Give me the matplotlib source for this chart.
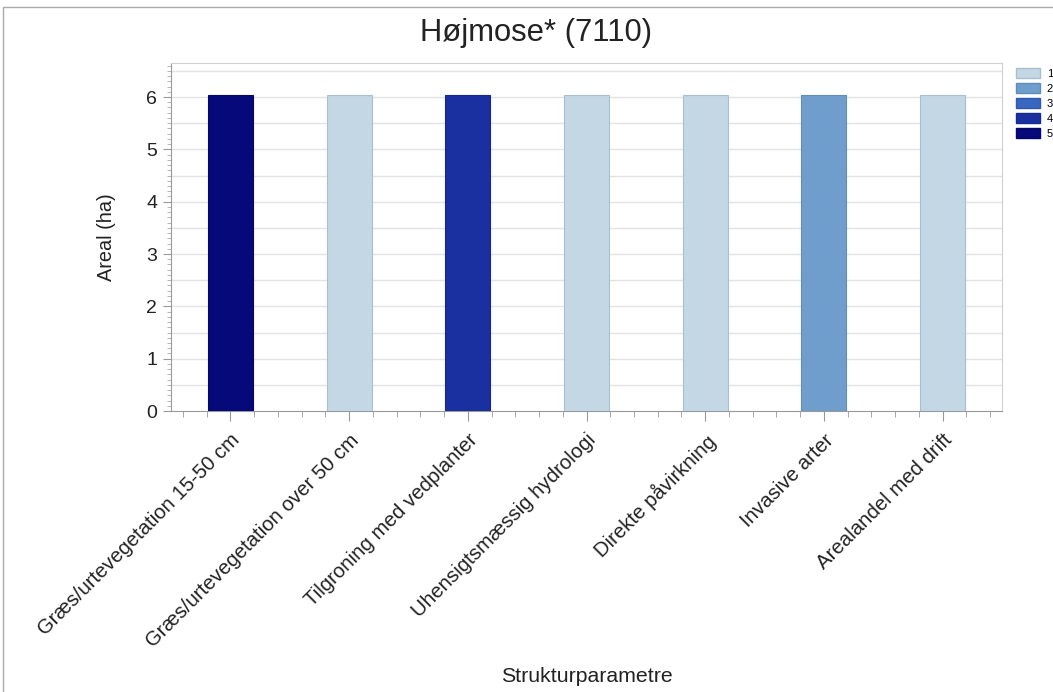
import matplotlib.pyplot as plt
from matplotlib.patches import Patch, Rectangle
from matplotlib.ticker import MultipleLocator
import numpy as np

plt.rcParams['font.family'] = ['Liberation Sans', 'DejaVu Sans']

categories = ['Græs/urtevegetation 15-50 cm', 'Græs/urtevegetation over 50 cm',
              'Tilgroning med vedplanter', 'Uhensigtsmæssig hydrologi',
              'Direkte påvirkning', 'Invasive arter', 'Arealandel med drift']
values = [6.04, 6.04, 6.04, 6.04, 6.04, 6.04, 6.04]
classes = [5, 1, 4, 1, 1, 2, 1]
legend_labels = ['1', '2', '3', '4', '5']
class_colors = {1: '#c3d8e4', 2: '#6f9ecd', 3: '#3866c0', 4: '#1b30a0', 5: '#05097a'}
edge_colors = {1: '#a9bfcc', 2: '#5f8dbb', 3: '#2f59ad', 4: '#17298c', 5: '#040768'}

fig = plt.figure(figsize=(10.53, 6.92), dpi=100)
ax = fig.add_axes([171 / 1053, 1 - 411 / 692, (1002 - 171) / 1053, (411 - 63) / 692])

x = np.arange(len(categories))
ax.bar(x, values, width=0.38, color=[class_colors[c] for c in classes],
       edgecolor=[edge_colors[c] for c in classes], linewidth=0.8, zorder=3)

ax.set_xlim(-0.5, len(categories) - 0.5)
ax.set_ylim(0, 6.65)
ax.yaxis.set_major_locator(MultipleLocator(1))
ax.yaxis.set_minor_locator(MultipleLocator(0.1))
ax.set_xticks(x)
ax.set_xticks(np.arange(-0.4, len(categories) - 0.5, 0.2), minor=True)
ax.set_xticklabels(categories, rotation=45, ha='right', rotation_mode='anchor',
                   fontsize=14.7, color='#222222')
ax.tick_params(axis='x', which='major', length=7, color='#999999', pad=7)
ax.tick_params(axis='x', which='minor', length=4, color='#999999')
ax.tick_params(axis='y', which='major', length=6, color='#999999', labelsize=14, pad=4,
               labelcolor='#222222')
ax.tick_params(axis='y', which='minor', length=3, color='#aaaaaa')

# grid lines every 0.5
for g in np.arange(0.5, 6.6, 0.5):
    ax.axhline(g, color='#e3e3e3', linewidth=1.0, zorder=1)

for side in ['left', 'bottom']:
    ax.spines[side].set_color('#999999')
for side in ['top', 'right']:
    ax.spines[side].set_color('#d0d0d0')

ax.set_ylabel('Areal (ha)', fontsize=14.3, color='#222222', labelpad=22)
ax.set_xlabel('Strukturparametre', fontsize=15.3, color='#222222', labelpad=0)
ax.xaxis.set_label_coords(0.5, 1 - (677 - 63) / (411 - 63))
ax.xaxis.label.set_va('center')
fig.text(536 / 1053, 1 - 33 / 692, 'Højmose* (7110)', ha='center', va='center',
         fontsize=22.3, color='#222222')

handles = [Patch(facecolor=class_colors[int(l)], edgecolor=edge_colors[int(l)], label=l)
           for l in legend_labels]
fig.legend(handles=handles, loc='upper left', bbox_to_anchor=(1010 / 1053, 1 - 62 / 692),
           frameon=False, fontsize=8, handlelength=2.2, handleheight=1.1,
           labelspacing=0.35, handletextpad=0.6, borderpad=0)

# outer border of the chart image
fig.add_artist(Rectangle((3 / 1053, -0.01), 1.1, 1 - 7 / 692 + 0.01, transform=fig.transFigure,
                         fill=False, edgecolor='#aaaaaa', linewidth=1))

fig.savefig('out.png', dpi=100)
